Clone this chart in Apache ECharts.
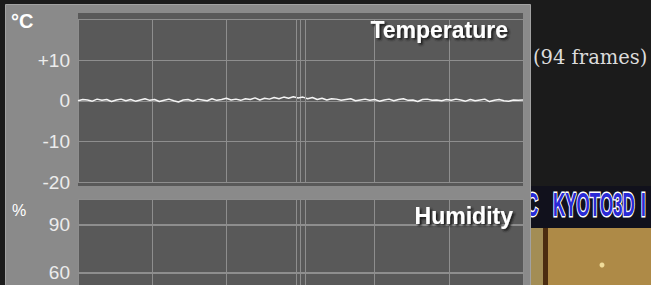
<!DOCTYPE html>
<html lang="en">
<head>
    <meta charset="UTF-8">
    <title>Temperature / Humidity</title>
    <script src="https://cdn.jsdelivr.net/npm/echarts@6/dist/echarts.min.js"></script>
    <style>
        html, body{
            margin: 0;
            overflow: hidden;
            background: #1b1b1b;
        }
        /* taller than the window: the humidity panel runs on below the visible edge */
        #chart{
            width: 651px;
            height: 330px;
        }
    </style>
</head>
<body>
<div id="chart"></div>
<script>
    // temperature of each frame (94 frames)
    var temperature = [
        0.0, 0.3, 0.2, -0.1, 0.4, 0.1, 0.3, -0.2, 0.2, 0.4, 0.0, 0.3, -0.1, 0.2, 0.5, 0.1,
        0.3, -0.2, 0.1, 0.4, 0.0, -0.3, 0.2, 0.3, -0.1, 0.4, 0.2, 0.0, 0.5, 0.1, 0.3, 0.6,
        0.2, 0.4, 0.1, 0.5, 0.3, 0.7, 0.2, 0.6, 0.4, 0.8, 0.5, 0.9, 0.6, 1.0, 0.7,
        0.9, 0.5, 0.8, 0.3, 0.6, 0.2, 0.5, 0.4, 0.1, 0.3, 0.5, 0.0, 0.2, 0.4, 0.1, 0.3,
        -0.1, 0.2, 0.4, 0.0, 0.3, 0.5, 0.1, 0.2, -0.2, 0.3, 0.4, 0.1, 0.2, 0.0, 0.3,
        0.1, 0.4, 0.2, -0.1, 0.3, 0.0, 0.2, 0.4, -0.2, 0.1, 0.3, 0.0, -0.1, 0.2, 0.1, 0.2
    ];
    // humidity trace is below the visible part of the panel, only its axis shows
    var tempLabels = [-20, -10, 0, 10];
    var humidLabels = [60, 90];

    var gridColor = '#8e8e8e';
    var labelFont = {color: '#ececec', fontSize: 19, fontFamily: 'Liberation Sans'};
    var shadow = {textShadowColor: '#1a1a1a', textShadowBlur: 2, textShadowOffsetX: 2, textShadowOffsetY: 2};

    var chart = echarts.init(document.getElementById('chart'), null, {renderer: 'svg'});

    function xAxisFor(idx){
        return {
            gridIndex: idx,
            type: 'value',
            min: 0,
            max: temperature.length - 1,
            interval: (temperature.length - 1) / 6,
            axisLine: {show: false},
            axisTick: {show: false},
            axisLabel: {show: false},
            splitLine: {lineStyle: {color: gridColor, width: 1}}
        };
    }

    // extra double line beside the middle grid line (in frames)
    var midFrames = [45.6, 47.4];

    chart.setOption({
        animation: false,
        grid: [
            {left: 78, width: 445, top: 19.5, height: 162.5},
            {left: 78, width: 445, top: 199, height: 121.6}
        ],
        xAxis: [xAxisFor(0), xAxisFor(1)],
        yAxis: [{
            gridIndex: 0,
            type: 'value',
            min: -20,
            max: 20,
            interval: 10,
            axisLine: {show: false},
            axisTick: {show: false},
            axisLabel: Object.assign({
                margin: 8,
                formatter: function(v){
                    if(tempLabels.indexOf(v) < 0) return '';
                    return v > 0 ? '+' + v : String(v);
                }
            }, labelFont),
            splitLine: {lineStyle: {color: gridColor, width: 1}}
        }, {
            gridIndex: 1,
            type: 'value',
            min: 30,
            max: 106,
            interval: 30,
            axisLine: {show: false},
            axisTick: {show: false},
            axisLabel: Object.assign({
                margin: 8,
                formatter: function(v){
                    return humidLabels.indexOf(v) < 0 ? '' : String(v);
                }
            }, labelFont),
            splitLine: {lineStyle: {color: gridColor, width: 1}}
        }],
        series: [{
            name: 'Temperature',
            type: 'line',
            xAxisIndex: 0,
            yAxisIndex: 0,
            symbol: 'none',
            lineStyle: {color: '#f4f4f4', width: 1.5},
            data: temperature.map(function(v, i){ return [i, v]; }),
            markLine: {
                silent: true,
                symbol: 'none',
                label: {show: false},
                lineStyle: {color: gridColor, type: 'solid', width: 1},
                data: midFrames.map(function(f){ return {xAxis: f}; })
            }
        }],
        graphic: [
            // neighbouring window on the right
            {type: 'rect', z: -10, shape: {x: 531, y: 186, width: 120, height: 42}, style: {fill: '#11111c'}},
            {type: 'rect', z: -10, shape: {x: 531, y: 228, width: 120, height: 102}, style: {fill: '#ae8a47'}},
            {type: 'rect', z: -10, shape: {x: 531, y: 228, width: 12, height: 102}, style: {fill: '#a38d55'}},
            {type: 'rect', z: -10, shape: {x: 543, y: 228, width: 5, height: 102}, style: {fill: '#4b2c10'}},
            {type: 'circle', z: -10, shape: {cx: 602, cy: 265, r: 2.5}, style: {fill: '#f0dc9a'}},
            {type: 'text', z: -9, x: 526, y: 205, scaleX: 0.5,
                style: {text: 'C', fill: '#2a2ad6', stroke: '#ffffff', lineWidth: 3,
                    font: 'bold 34px "Liberation Sans"', verticalAlign: 'middle'}},
            {type: 'text', z: -9, x: 553, y: 205, scaleX: 0.5,
                style: {text: 'KYOTO3D', fill: '#2a2ad6', stroke: '#ffffff', lineWidth: 3,
                    font: 'bold 34px "Liberation Sans"', verticalAlign: 'middle'}},
            {type: 'text', z: -9, x: 641, y: 205, scaleX: 0.5,
                style: {text: 'I', fill: '#2a2ad6', stroke: '#ffffff', lineWidth: 3,
                    font: 'bold 34px "Liberation Sans"', verticalAlign: 'middle'}},
            {type: 'text', z: -9, x: 533, y: 57,
                style: {text: '(94 frames)', fill: '#dcdcdc', font: '19.5px "DejaVu Serif"', verticalAlign: 'middle'}},
            // grey panel and plot backgrounds
            {type: 'rect', z: -8, shape: {x: 5.5, y: 4.5, width: 525, height: 340},
                style: {fill: '#8a8a8a', stroke: '#a2a2a2', lineWidth: 1}},
            {type: 'rect', z: -7, shape: {x: 78, y: 13, width: 445, height: 173}, style: {fill: '#595959'}},
            {type: 'rect', z: -7, shape: {x: 78, y: 199, width: 445, height: 140}, style: {fill: '#595959'}},
            // units and titles
            {type: 'text', z: 10, x: 11, y: 21,
                style: {text: '°C', fill: '#ffffff', font: 'bold 20px "Liberation Sans"', verticalAlign: 'middle'}},
            {type: 'text', z: 10, x: 12, y: 210,
                style: {text: '%', fill: '#ffffff', font: '16px "Liberation Sans"', verticalAlign: 'middle'}},
            {type: 'text', z: 10, x: 508, y: 30,
                style: Object.assign({text: 'Temperature', fill: '#ffffff', font: 'bold 23px "Liberation Sans"',
                    align: 'right', verticalAlign: 'middle'}, shadow)},
            {type: 'text', z: 10, x: 513, y: 216,
                style: Object.assign({text: 'Humidity', fill: '#ffffff', font: 'bold 23px "Liberation Sans"',
                    align: 'right', verticalAlign: 'middle'}, shadow)}
        ]
    });

    // humidity grid lines: the double line and the 60 / 90 lines, placed through its axes
    var extraLines = midFrames.map(function(f){
        var x = Math.round(chart.convertToPixel({xAxisIndex: 1}, f)) + 0.5;
        return {type: 'line', z: 1, shape: {x1: x, y1: 199, x2: x, y2: 330},
            style: {stroke: gridColor, lineWidth: 1}};
    }).concat(humidLabels.map(function(v){
        var y = Math.round(chart.convertToPixel({yAxisIndex: 1}, v)) + 0.5;
        return {type: 'line', z: 1, shape: {x1: 78, y1: y, x2: 523, y2: y},
            style: {stroke: gridColor, lineWidth: 1}};
    }));
    chart.setOption({graphic: chart.getOption().graphic[0].elements.concat(extraLines)});
</script>
</body>
</html>
